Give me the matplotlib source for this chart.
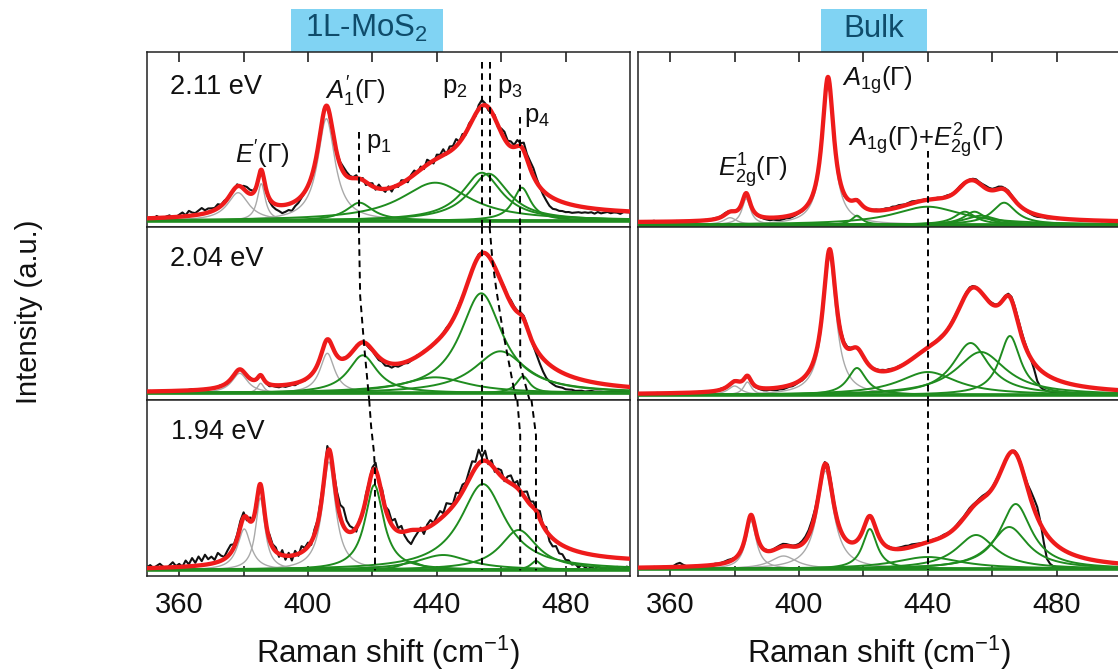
import numpy as np
import matplotlib
matplotlib.use("Agg")
import matplotlib.pyplot as plt
from matplotlib.patches import Rectangle

plt.rcParams["font.family"] = ["Liberation Sans", "DejaVu Sans"]
plt.rcParams["mathtext.fontset"] = "custom"
plt.rcParams["mathtext.rm"] = "Liberation Sans"
plt.rcParams["mathtext.it"] = "Liberation Sans:italic"
plt.rcParams["mathtext.bf"] = "Liberation Sans:bold"
plt.rcParams["mathtext.sf"] = "Liberation Sans"

# ---------------------------------------------------------------- data
shift_min, shift_max = 350, 500
major_ticks = [360, 400, 440, 480]
minor_ticks = [380, 420, 460]
sample_names = ["1L-MoS$_2$", "Bulk"]
energy_labels = ["2.11 eV", "2.04 eV", "1.94 eV"]

# Lorentzian fit components: (centre / cm^-1, height / a.u., FWHM / cm^-1)
# "gamma": first-order zone-centre modes (grey), "extra": additional bands (green)
mono_211_gamma = [(378.3, 28, 8.0), (385.5, 37, 3.0), (405.7, 102, 6.5)]
mono_211_extra = [(416.0, 18, 10.0), (439.5, 38, 26.0), (454.0, 48, 15.0),
                  (456.1, 47, 15.0), (466.4, 33, 6.7)]
mono_211_background = (0.0, 4.5)

mono_204_gamma = [(378.8, 20, 6.0), (385.3, 10, 2.5), (406.0, 40, 5.5)]
mono_204_extra = [(417.0, 38, 11.0), (439.5, 16, 25.0), (453.8, 100, 16.0),
                  (459.7, 42, 20.0), (466.8, 17, 5.0)]
mono_204_background = (0.0, 0.0)

mono_194_gamma = [(380.2, 41, 5.0), (385.2, 72, 3.5), (406.5, 108, 5.0)]
mono_194_extra = [(420.6, 85, 7.0), (432.0, 8, 8.0), (442.0, 15, 20.0),
                  (454.3, 86, 17.0), (465.4, 40, 14.0), (470.8, 9, 4.0)]
mono_194_background = (0.0, 6.0)

bulk_211_gamma = [(378.6, 7, 5.0), (383.6, 26, 3.2), (409.0, 142, 4.4)]
bulk_211_extra = [(418.0, 9, 4.0), (440.0, 18, 26.0), (451.5, 13, 8.0),
                  (454.5, 13, 8.0), (456.5, 9, 12.0), (463.7, 22, 9.0)]
bulk_211_background = (2.0, 2.0)

bulk_204_gamma = [(380.0, 9, 5.0), (384.0, 13, 3.0), (409.5, 136, 5.0)]
bulk_204_extra = [(418.0, 27, 7.0), (440.0, 23, 22.0), (453.3, 52, 13.6),
                  (456.5, 43, 19.0), (465.5, 59, 8.0)]
bulk_204_background = (0.0, 0.0)

bulk_194_gamma = [(385.1, 48, 4.0), (395.2, 13, 10.0), (408.2, 98, 6.2)]
bulk_194_extra = [(422.0, 40, 5.5), (440.0, 12, 25.0), (455.0, 34, 15.0),
                  (465.3, 42, 14.0), (467.3, 65, 12.0)]
bulk_194_background = (0.0, 0.0)

# measured spectra minus fit, sampled every 1 cm^-1 from 350 to 500
mono_211_residual = [
    0, 1, -1, 2, 0, -1, 1, 2, -1, 0,
    2, 4, 1, 5, 3, 2, 4, 6, 3, 4,
    3, 2, 4, 1, 2, 0, 1, -1, 2, 0,
    3, 5, 4, 2, 0, -1, 1, -2, -3, -4,
    -5, -6, -8, -7, -6, -8, -5, -4, -2, -1,
    0, 1, 0, -2, 1, 3, 0, -3, -2, 1,
    3, 5, 4, 2, 1, 3, -2, 2, -3, 1,
    3, -2, 4, 0, -3, 2, -4, 1, -2, 3,
    1, -3, 2, 4, -1, 3, -2, 5, 1, -3,
    4, 2, 6, -1, 5, 3, 7, 1, 4, -2,
    3, 1, -2, 4, 6, 2, -3, -1, 3, -2,
    4, 7, 3, 5, 2, 6, 3, 8, 5, 7,
    8, 4, 0, -4, -7, -10, -11, -10, -10, -9,
    -9, -8, -8, -7, -6, -6, -5, -5, -4, -5,
    -3, -4, -3, -2, -3, -2, -2, -3, -1, -1,
    -1]
mono_204_residual = [
    0, 0.5, 0, -0.5, 0, 1, 0, -1, 0, 0.5,
    0, -0.5, 0, 0.5, 1, 0, -0.5, 0, 0.5, 0,
    0, -0.5, 0.5, 1, 0, -1, 0, 0.5, 1, 0,
    -0.5, 0, 1, 0, -1, 0, 0.5, -1, -2, -1,
    -1.5, -2, -1, -2, -1.5, -1, -2, -1, 0, -1,
    0, 1, 0, -1, 0, 1, 0, -1, 0, 1,
    0, 1, 0, -1, 0, 1, 0, 0, -1, -2,
    -1, -2, -3, -2, -4, -3, -4, -2, -3, -2,
    -1, -2, -1, 0, 1, 0, 1, 0, -1, 0,
    1, 0, 1, 2, 1, 0, 1, 2, 1, 0,
    1, 0, 1, 2, 1, 0, -1, 0, 1, 0,
    1, 2, 1, 3, 2, 1, 2, 3, 2, 0,
    -2, -5, -9, -13, -16, -17, -17, -17, -16, -15,
    -15, -14, -13, -13, -12, -11, -11, -10, -9, -9,
    -8.5, -8, -8, -7.5, -7, -6.5, -6, -6, -5.5, -5,
    -5]
mono_194_residual = [
    1, 3, 0, 2, 4, 1, -1, 2, 5, 1,
    3, 0, 6, 2, 8, 3, 9, 4, 10, 5,
    7, 3, 9, 5, 2, 6, 8, 3, 4, 6,
    5, -3, 4, -2, 3, -1, 2, -4, 5, 3,
    4, -3, 5, -4, 3, -5, 4, -2, 6, 2,
    4, -3, 5, 3, 6, 2, 8, -2, 5, 9,
    12, 18, 10, 6, 3, -4, 2, -3, 5, 2,
    4, 7, -3, 6, 2, 8, 4, 10, 3, 6,
    -4, -10, -14, -8, -3, 2, -5, 3, 6, 1,
    5, 8, 3, 10, 6, 2, 9, 4, 7, 3,
    8, 12, 6, 14, 4, 10, -2, 5, -3, 4,
    6, -2, 5, 8, 2, 7, -1, 4, 9, 3,
    6, 2, 8, 0, 4, -6, -8, -5, -10, -9,
    -13, -12, -15, -13, -16, -12, -14, -15, -12, -14,
    -11, -12, -13, -10, -12, -11, -9, -11, -10, -8,
    -9]
bulk_211_residual = [
    0.5, 0, -0.5, 0, 0.5, 1, 0, -0.5, 0, 0.5,
    0, 0, 0.5, 0, -0.5, 0, 0.5, 0, 0, 0.5,
    0, 0.5, 0, 0.5, 1, 0.5, 1, 1.5, 1, 0.5,
    0, 0.5, 0, -0.5, 0, 0.5, 0, -0.5, -1, -1.5,
    -2, -2.5, -2, -2.5, -3, -2.5, -2, -2.5, -2, -1.5,
    -1, -1, 0, 0, 0.5, 1, 0, 0, 0, 0,
    0, 0, -1, -1.5, -2, -1, 0, 0.5, 1, 0.5,
    0, -0.5, 0, 0.5, 1, 0.5, 1, 1.5, 1, 2,
    1.5, 2, 1.5, 1, 1.5, 2, 1.5, 1, 0.5, 1,
    0.5, 0, 0.5, 1, 0.5, 1, 1.5, 1, 0.5, 1,
    1.5, 1, 0.5, 1, 1.5, 2, 1.5, 2, 2.5, 2,
    1.5, 2, 2.5, 2, 1.5, 2, 1.5, 1, 0.5, 0,
    -0.5, -1, -1.5, -2, -2, -1.5, -1, -1.5, -1, -0.5,
    -1, -0.5, 0, -0.5, 0, -0.5, 0, 0, -0.5, 0,
    0, -0.5, 0, 0, -0.5, 0, 0, 0.5, 0, 0,
    0]
bulk_204_residual = [
    0, 0.5, 0, 0, -0.5, 0, 0.5, 0, 0, 0,
    0.5, 0, 0, -0.5, 0, 0, 0.5, 0, 0, 0.5,
    0, 0, 0.5, 0, 0, 0.5, 1, 0.5, 0, 0.5,
    1, 0.5, 0, -0.5, 0, -1, -1.5, -1, -1.5, -2,
    -2, -1.5, -2, -2.5, -2, -2.5, -2, -1.5, -2, -1.5,
    -1, -1.5, -1, 0, 1, 0, -1, 0, 1, 0,
    0, 1, 2, 2.5, 2, 1.5, 1, 0.5, 0, -0.5,
    -1, -0.5, 0, 0.5, 1, 1, 1.5, 1, 1.5, 1,
    0.5, 1, 0.5, 0, 0.5, 0, -0.5, 0, 0.5, 0,
    0.5, 1, 0.5, 1, 1.5, 1, 0.5, 1, 1.5, 1,
    0.5, 1, 1.5, 2, 1.5, 1, 0.5, 0, 0.5, 1,
    1.5, 1, 0.5, 1, 1.5, 2, 3, 3.5, 4, 4,
    3, 2, -1, -6, -14, -17, -17, -16, -15, -14,
    -13, -12, -11, -10.5, -10, -9, -8.5, -8, -7.5, -7,
    -6.5, -6, -6, -5.5, -5, -5, -4.5, -4.5, -4, -4,
    -4]
bulk_194_residual = [
    0, 0.5, 0, -0.5, 0, 0.5, 0, 0, 0.5, 0,
    0, 1, 3, 4, 2, 0.5, 0, 0, 0.5, 0,
    0, 0.5, 0, 0.5, 1, 0.5, 1, 1.5, 2, 1.5,
    1, 0.5, 0, -0.5, 0, 0.5, 0, -0.5, 0, 0.5,
    1, 0.5, 1, 1.5, 2, 2.5, 2, 1.5, 1, 1.5,
    2, 3, 4, 5, 6, 5, 3, 1, 2, 5,
    5, 3, 1, 0, -1, 0, 0.5, 0, 0.5, 0,
    0.5, 0, -0.5, 0, 0.5, 0, 0, 0.5, 1, 0.5,
    1, 1.5, 2, 2.5, 2, 2.5, 2, 1.5, 1, 0.5,
    0, 0.5, 1, 0.5, 1, 1.5, 1, 0.5, 1, 1.5,
    2, 1.5, 2, 2.5, 2, 1.5, 2, 2.5, 2, 1.5,
    1, 1.5, 1, 0.5, 0, 0.5, 1, 1.5, 2, 1.5,
    2, 4, 8, 10, 10, 2, -12, -24, -25, -24,
    -22, -20, -18.5, -17, -15.5, -13.5, -12.5, -11.5, -10.5, -9.5,
    -9, -8.5, -8, -7.5, -7, -6.5, -6, -6, -5.5, -5.5,
    -5]

# dashed guides following band positions: (Raman shift, height as axes fraction)
mono_guides = [
    [[(415.8, 0.543), (415.8, 0.0)],
     [(454.0, 0.943), (454.0, 0.0)],
     [(456.4, 0.943), (456.4, 0.0)],
     [(465.9, 0.629), (465.9, 0.0)]],
    [[(415.8, 1.0), (416.2, 0.6), (417.5, 0.3), (419.0, 0.0)],
     [(454.0, 1.0), (454.0, 0.0)],
     [(456.4, 1.0), (457.3, 0.8), (458.5, 0.635), (460.5, 0.4), (464.6, 0.0)],
     [(465.9, 1.0), (465.9, 0.2), (468.8, 0.0)]],
    [[(419.0, 1.0), (419.6, 0.85), (420.5, 0.7), (420.8, 0.6), (420.8, 0.03)],
     [(454.0, 1.0), (454.0, 0.03)],
     [(465.0, 1.0), (465.9, 0.8), (465.9, 0.03)],
     [(469.4, 1.0), (470.8, 0.8), (470.8, 0.03)]],
]
bulk_guides = [
    [[(440.0, 0.43), (440.0, 0.0)]],
    [[(440.0, 1.0), (440.0, 0.0)]],
    [[(440.0, 1.0), (440.0, 0.03)]],
]

gamma_sets = [[mono_211_gamma, mono_204_gamma, mono_194_gamma],
              [bulk_211_gamma, bulk_204_gamma, bulk_194_gamma]]
extra_sets = [[mono_211_extra, mono_204_extra, mono_194_extra],
              [bulk_211_extra, bulk_204_extra, bulk_194_extra]]
background_sets = [[mono_211_background, mono_204_background, mono_194_background],
                   [bulk_211_background, bulk_204_background, bulk_194_background]]
residual_sets = [[mono_211_residual, mono_204_residual, mono_194_residual],
                 [bulk_211_residual, bulk_204_residual, bulk_194_residual]]
guide_sets = [mono_guides, bulk_guides]

# ---------------------------------------------------------------- layout
W, H = 1118, 671
fig = plt.figure(figsize=(W / 100, H / 100), dpi=100)

col_left = [147.0, 638.0]
col_width = 483.0
row_top = [51.7, 226.7, 400.0]
row_height = [175.0, 173.3, 175.7]
baseline_offset = [[6.0, 6.7, 5.7], [2.0, 5.0, 6.7]]

RED = "#ee1b1b"
GREEN = "#1f8c1f"
GREY = "#a9a9a9"
BLACK = "#111111"

mode_labels = [
    [[(r"$E^{\prime}(\Gamma)$", 377.3, 57.4),
      (r"$A^{\prime}_{1}(\Gamma)$", 405.2, 120.7), (r"p$_1$", 418.0, 72.4),
      (r"p$_2$", 441.6, 127.4), (r"p$_3$", 458.8, 127.4), (r"p$_4$", 467.0, 99.0)],
     [], []],
    [[(r"$A_{\rm 1g}(\Gamma)$", 413.4, 138.7),
      (r"$E^{1}_{\rm 2g}(\Gamma)$", 374.8, 47.7),
      (r"$A_{\rm 1g}(\Gamma)$+$E^{2}_{\rm 2g}(\Gamma)$", 415.3, 77.7)],
     [], []],
]
energy_label_pos = [(357.0, 126.4), (357.0, 127.6), (357.5, 131.0)]


def lorentzian(x, centre, height, fwhm):
    return height / (1.0 + ((x - centre) / (0.5 * fwhm)) ** 2)


def add_px_axes(x, y, w, h):
    return fig.add_axes([x / W, 1 - (y + h) / H, w / W, h / H])


x_fit = np.linspace(shift_min, shift_max, 1501)
x_meas = np.arange(shift_min, shift_max + 1)

for c in range(2):
    for r in range(3):
        ax = add_px_axes(col_left[c], row_top[r], col_width, row_height[r])
        off = baseline_offset[c][r]
        ax.set_xlim(shift_min, shift_max)
        ax.set_ylim(-off, row_height[r] - off)
        ax.set_yticks([])

        bg0, bg1 = background_sets[c][r]

        def total(x):
            y = bg0 + (bg1 - bg0) * (x - shift_min) / (shift_max - shift_min)
            for comp in gamma_sets[c][r] + extra_sets[c][r]:
                y = y + lorentzian(x, *comp)
            return y

        measured = total(x_meas) + np.asarray(residual_sets[c][r], dtype=float)
        ax.plot(x_meas, measured, color=BLACK, lw=1.5, zorder=2)
        for comp in gamma_sets[c][r]:
            ax.plot(x_fit, lorentzian(x_fit, *comp), color=GREY, lw=1.0, zorder=3)
        for comp in extra_sets[c][r]:
            ax.plot(x_fit, lorentzian(x_fit, *comp), color=GREEN, lw=1.4, zorder=3)
        ax.axhline(0, color=GREEN, lw=2.6, zorder=3)
        ax.plot(x_fit, total(x_fit), color=RED, lw=3.1, zorder=4)

        for guide in guide_sets[c][r]:
            gx = [p[0] for p in guide]
            gy = [p[1] for p in guide]
            ax.plot(gx, gy, transform=ax.get_xaxis_transform(), color="black",
                    lw=1.4, ls=(0, (3.4, 2.4)), zorder=6)

        for text, tx, ty in mode_labels[c][r]:
            ax.text(tx, ty, text, fontsize=18.5, ha="left", va="baseline",
                    color="#111111", zorder=7)
        if c == 0:
            ex, ey = energy_label_pos[r]
            ax.text(ex, ey, energy_labels[r], fontsize=19.5, ha="left",
                    va="baseline", color="#111111", zorder=7)

        ax.set_xticks(major_ticks)
        ax.set_xticks(minor_ticks, minor=True)
        ax.tick_params(axis="x", which="both", direction="in", length=7.0,
                       width=1.1, top=(r == 0), bottom=(r == 2),
                       labelbottom=(r == 2), labeltop=False, pad=11,
                       labelsize=21, colors="#111111")
        for sp in ax.spines.values():
            sp.set_linewidth(1.1)
            sp.set_color("#222222")

# sample tags above each column
title_boxes = [(291.0, 9.0, 151.7, 42.7), (821.0, 9.0, 105.7, 42.7)]
for (bx, by, bw, bh), name in zip(title_boxes, sample_names):
    fig.add_artist(Rectangle((bx / W, 1 - (by + bh) / H), bw / W, bh / H,
                             transform=fig.transFigure, facecolor="#80d3f3",
                             edgecolor="none", zorder=0))
    fig.text((bx + bw / 2) / W, 1 - 36.7 / H, name, ha="center", va="baseline",
             fontsize=22.5, color="#0f4c6b")

for c in range(2):
    fig.text((col_left[c] + col_width / 2) / W, 1 - 663.3 / H,
             r"Raman shift (cm$^{-1}$)", ha="center", va="baseline",
             fontsize=22.5, color="#111111")
fig.text(29 / W, 1 - 312 / H, "Intensity (a.u.)", rotation=90,
         ha="center", va="center", fontsize=21, color="#111111")

fig.savefig("out.png", dpi=100)
